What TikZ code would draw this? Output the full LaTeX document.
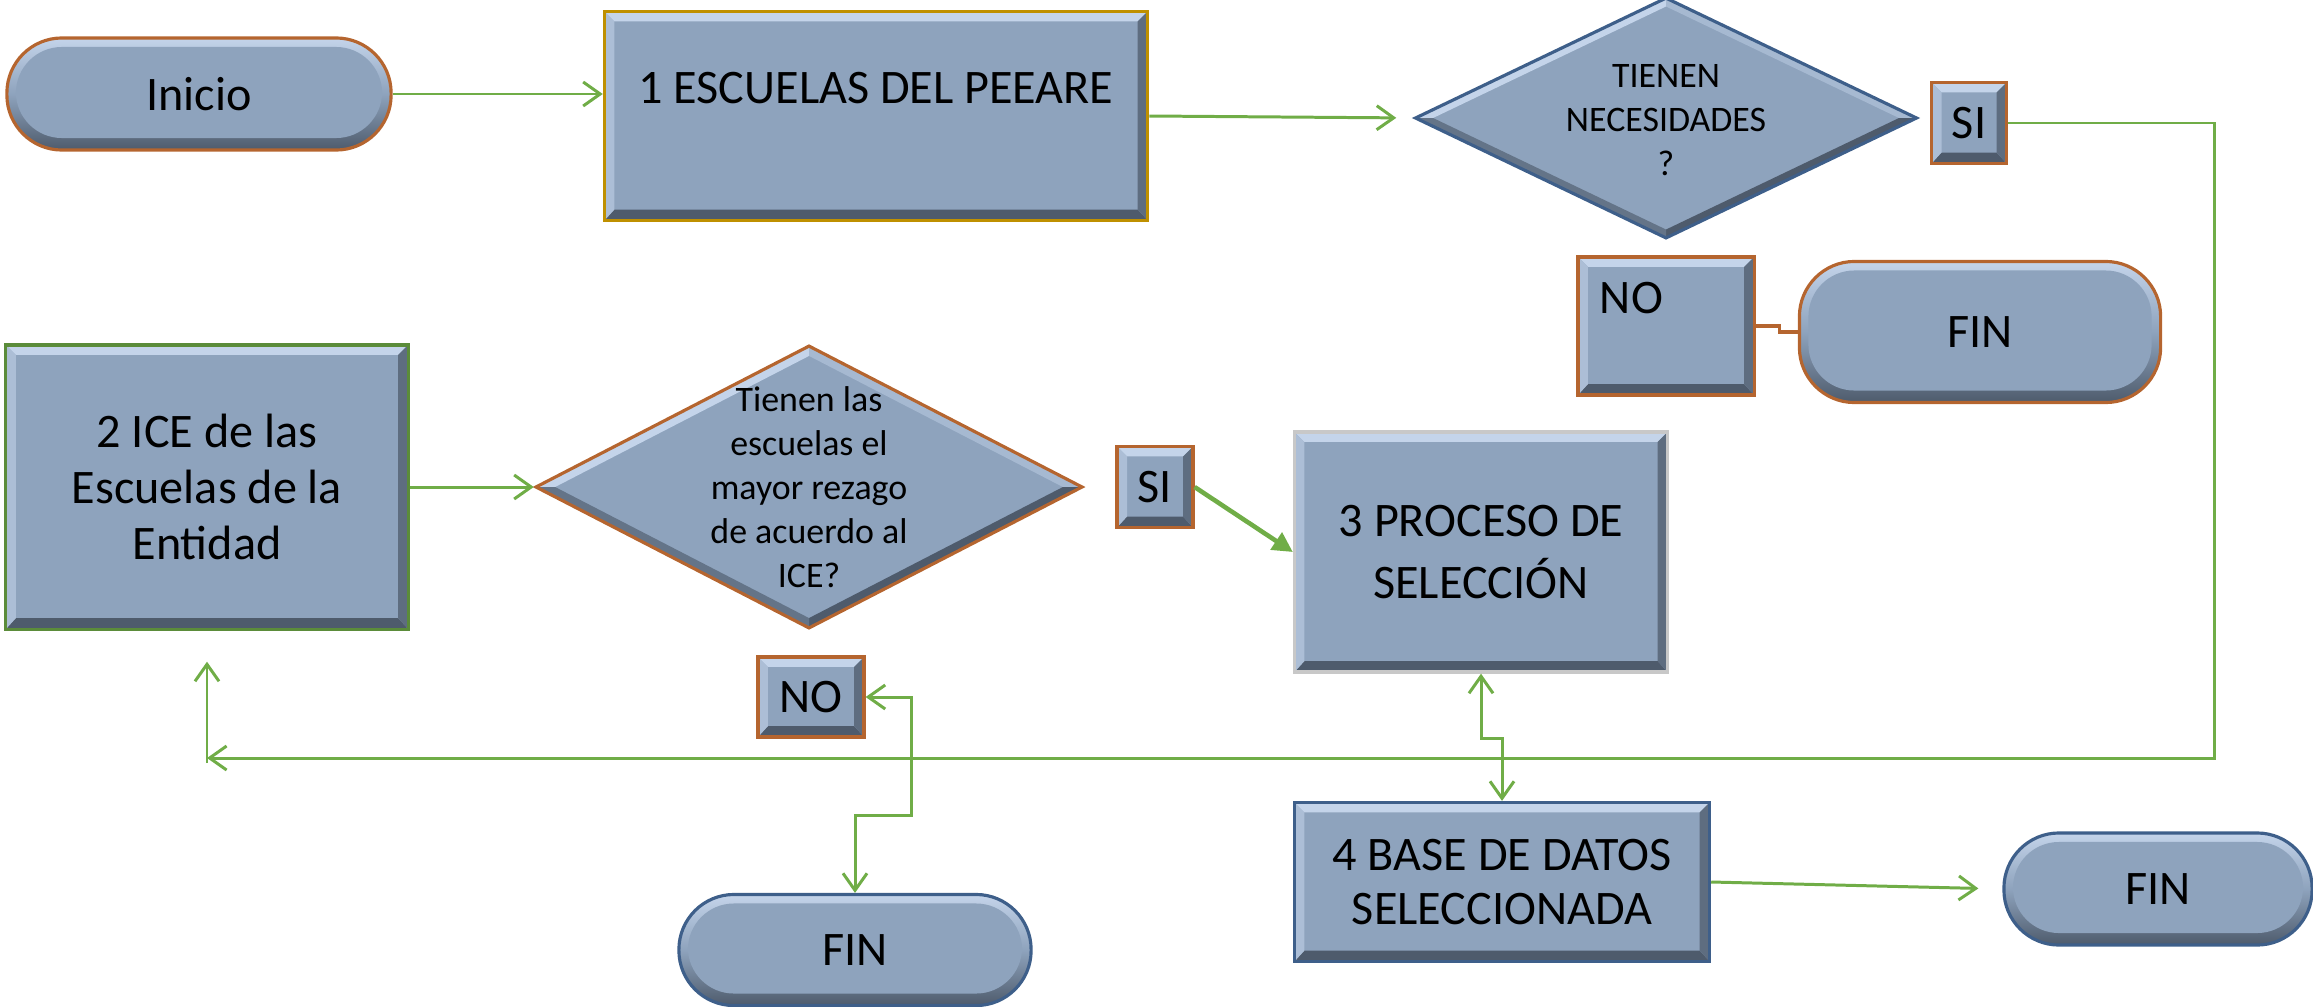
\documentclass[tikz,border=0pt]{standalone}
\usepackage{fontspec}
\setmainfont{Carlito}
\usetikzlibrary{shapes.geometric,arrows.meta,calc}

\definecolor{boxfill}{HTML}{8EA3BD}
\definecolor{boxlight}{HTML}{C4D4EA}
\definecolor{boxdark}{HTML}{4E5B6C}
\definecolor{flowgreen}{HTML}{70AD47}
\definecolor{rimbrown}{HTML}{B5652F}
\definecolor{rimgold}{HTML}{BF9000}
\definecolor{rimgreen}{HTML}{5B8C3A}
\definecolor{rimblue}{HTML}{3E5F8A}
\definecolor{rimgrey}{HTML}{C8C8C8}

\newcommand{\smalltxt}{\fontsize{10.2pt}{12.5pt}\selectfont}
\newcommand{\bigtxt}{\fontsize{13.7pt}{16pt}\selectfont}

\tikzset{
  % flat box with a bevelled rim
  bevelbox/.style={draw, fill=boxfill, line width=0.9pt, inner sep=0pt,
    align=center, font=\bigtxt,
    path picture={
      \coordinate (bvnw) at (path picture bounding box.north west);
      \coordinate (bvne) at (path picture bounding box.north east);
      \coordinate (bvse) at (path picture bounding box.south east);
      \coordinate (bvsw) at (path picture bounding box.south west);
      \fill[boxlight] (bvnw) -- (bvne) -- ([shift={(-0.1cm,-0.1cm)}]bvne)
        -- ([shift={(0.1cm,-0.1cm)}]bvnw) -- cycle;
      \fill[boxdark] (bvsw) -- (bvse) -- ([shift={(-0.1cm,0.11cm)}]bvse)
        -- ([shift={(0.1cm,0.11cm)}]bvsw) -- cycle;
      \fill[boxdark!75!boxfill] (bvne) -- (bvse) -- ([shift={(-0.1cm,0.11cm)}]bvse)
        -- ([shift={(-0.1cm,-0.1cm)}]bvne) -- cycle;
      \fill[boxlight!55!boxfill] (bvnw) -- (bvsw) -- ([shift={(0.1cm,0.11cm)}]bvsw)
        -- ([shift={(0.1cm,-0.1cm)}]bvnw) -- cycle;
    }},
  % rounded start / end shape, rim made by a smaller plate on a shaded one
  terminal/.style={draw, fill=boxfill, line width=0.9pt, inner sep=0pt,
    font=\bigtxt, rounded corners=0.55cm,
    path picture={
      \fill[sharp corners, top color=boxlight, bottom color=boxdark, middle color=boxfill]
        (path picture bounding box.north west) rectangle (path picture bounding box.south east);
      \fill[boxfill, rounded corners=0.46cm]
        ([shift={(0.09cm,-0.09cm)}]path picture bounding box.north west) rectangle
        ([shift={(-0.09cm,0.12cm)}]path picture bounding box.south east);
    }},
  decision/.style={diamond, draw, fill=boxfill, line width=0.9pt, inner sep=0pt,
    path picture={
      \coordinate (dvc) at (path picture bounding box.center);
      \coordinate (dvn) at (path picture bounding box.north);
      \coordinate (dve) at (path picture bounding box.east);
      \coordinate (dvs) at (path picture bounding box.south);
      \coordinate (dvw) at (path picture bounding box.west);
      \coordinate (dvn2) at ($(dvc)!0.93!(dvn)$);
      \coordinate (dve2) at ($(dvc)!0.93!(dve)$);
      \coordinate (dvs2) at ($(dvc)!0.93!(dvs)$);
      \coordinate (dvw2) at ($(dvc)!0.93!(dvw)$);
      \fill[boxlight] (dvw) -- (dvn) -- (dvn2) -- (dvw2) -- cycle;
      \fill[boxlight!45!boxfill] (dvn) -- (dve) -- (dve2) -- (dvn2) -- cycle;
      \fill[boxdark] (dve) -- (dvs) -- (dvs2) -- (dve2) -- cycle;
      \fill[boxdark!65!boxfill] (dvs) -- (dvw) -- (dvw2) -- (dvs2) -- cycle;
    }},
  dectext/.style={align=center, font=\smalltxt, inner sep=0pt},
  flow/.style={draw=flowgreen, line width=0.85pt},
}

\begin{document}
\begin{tikzpicture}[x=0.01cm, y=-0.01cm, >={Straight Barb[length=0.17cm,width=0.24cm]}]
\useasboundingbox (0,0) rectangle (2313,1006);

% top row
\node[terminal, draw=rimbrown, minimum width=3.84cm, minimum height=1.12cm] (inicio) at (199,94) {Inicio};
\node[bevelbox, draw=rimgold, minimum width=5.43cm, minimum height=2.09cm,
      text height=0.35cm, text depth=0.6cm] (peeare) at (876,116) {1 ESCUELAS DEL PEEARE};
\node[decision, draw=rimblue, minimum width=5.02cm, minimum height=2.41cm] (needs) at (1666,118) {};
\node[dectext] (needstxt) at (1666,120) {TIENEN\\NECESIDADES\\?};
\node[bevelbox, draw=rimbrown, minimum width=0.75cm, minimum height=0.81cm] (si1) at (1969,123) {SI};
\node[bevelbox, draw=rimbrown, minimum width=1.76cm, minimum height=1.38cm, text width=1.32cm,
      align=left, inner xsep=0.22cm, text height=0.35cm, text depth=0.6cm] (no1) at (1666,326) {NO};
\node[terminal, draw=rimbrown, minimum width=3.61cm, minimum height=1.41cm] (fin1) at (1980,332) {FIN};

% middle row
\node[bevelbox, draw=rimgreen, minimum width=4.02cm, minimum height=2.84cm,
      font=\fontsize{13.7pt}{15.8pt}\selectfont] (ice) at (207,487) {2 ICE de las\\Escuelas de la\\Entidad};
\node[decision, draw=rimbrown, minimum width=5.47cm, minimum height=2.83cm] (rezago) at (809,487) {};
\node[dectext] (rezagotxt) at (809,487) {Tienen las\\escuelas el\\mayor rezago\\de acuerdo al\\ICE?};
\node[bevelbox, draw=rimbrown, minimum width=0.76cm, minimum height=0.81cm] (si2) at (1155,487) {SI};
\node[bevelbox, draw=rimgrey, minimum width=3.73cm, minimum height=2.40cm,
      font=\fontsize{13.7pt}{17.6pt}\selectfont] (seleccion) at (1481,552) {3 PROCESO DE\\SELECCIÓN};
\node[bevelbox, draw=rimbrown, minimum width=1.06cm, minimum height=0.80cm] (no2) at (811,697) {NO};

% bottom row
\node[terminal, draw=rimblue, minimum width=3.52cm, minimum height=1.11cm] (fin2) at (855,950) {FIN};
\node[bevelbox, draw=rimblue, minimum width=4.15cm, minimum height=1.59cm,
      font=\fontsize{13.7pt}{15.2pt}\selectfont] (base) at (1502,882) {4 BASE DE DATOS\\SELECCIONADA};
\node[terminal, draw=rimblue, minimum width=3.08cm, minimum height=1.12cm] (fin3) at (2158,889) {FIN};

% connectors
\draw[flow,->] (inicio.east) -- (inicio.east -| peeare.west);
\draw[flow,->, shorten >=0.17cm] (peeare.east) -- (needs.west);
\coordinate (back) at (207,758);
\draw[flow,->] (si1.east) -- ++(206,0) |- (back);
\draw[flow,->] ([yshift=-0.05cm]back) -- ([yshift=-0.31cm]ice.south);
\draw[rimbrown, line width=0.9pt] (no1.east) -- ++(24,0) |- (fin1.west);
\draw[flow,->] (ice.east) -- (rezago.west);
\draw[draw=flowgreen, line width=1.3pt, -{Triangle[length=0.2cm,width=0.2cm]}] (si2.east) -- (seleccion.west);
\draw[flow,<->] (no2.east) -- ++(46,0) -- ++(0,118) -| (fin2.north);
\draw[flow,<->] (seleccion.south) -- ++(0,65) -| (base.north);
\draw[flow,->, shorten >=0.24cm] (base.east) -- (fin3.west);
\end{tikzpicture}
\end{document}
